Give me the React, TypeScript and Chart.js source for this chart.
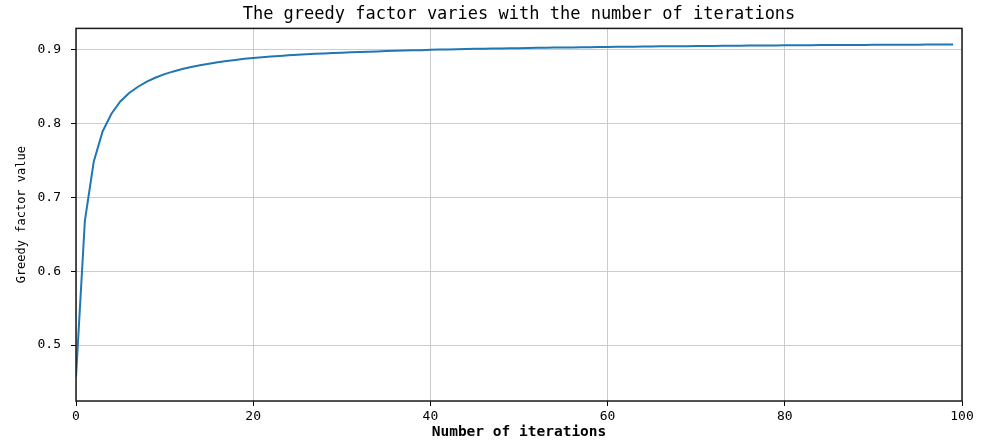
import React, { useEffect, useRef } from "react";
import { Chart, registerables } from "chart.js";

Chart.register(...registerables);

const TITLE = "The greedy factor varies with the number of iterations";
const X_TITLE = "Number of iterations";
const Y_TITLE = "Greedy factor value";

// greedy factor value at iteration 0..99
const GREEDY: number[] = [
  0.4570, 0.6680, 0.7480, 0.7890, 0.8130, 0.8295, 0.8410, 0.8495, 0.8565, 0.8620,
  0.8665, 0.8702, 0.8734, 0.8762, 0.8786, 0.8807, 0.8826, 0.8843, 0.8858, 0.8872,
  0.8885, 0.8895, 0.8904, 0.8912, 0.8920, 0.8927, 0.8934, 0.8940, 0.8946, 0.8951,
  0.8956, 0.8961, 0.8965, 0.8969, 0.8973, 0.8977, 0.8980, 0.8984, 0.8987, 0.8990,
  0.8995, 0.8998, 0.9000, 0.9003, 0.9005, 0.9007, 0.9009, 0.9011, 0.9013, 0.9015,
  0.9017, 0.9019, 0.9021, 0.9022, 0.9024, 0.9026, 0.9027, 0.9029, 0.9030, 0.9032,
  0.9033, 0.9035, 0.9036, 0.9037, 0.9038, 0.9040, 0.9041, 0.9042, 0.9043, 0.9044,
  0.9045, 0.9046, 0.9047, 0.9048, 0.9049, 0.9050, 0.9051, 0.9052, 0.9053, 0.9054,
  0.9055, 0.9055, 0.9056, 0.9057, 0.9058, 0.9058, 0.9059, 0.9060, 0.9060, 0.9061,
  0.9062, 0.9062, 0.9063, 0.9063, 0.9064, 0.9064, 0.9065, 0.9065, 0.9066, 0.9066,
];

const Y_TICKS = [0.5, 0.6, 0.7, 0.8, 0.9];
const X_TICKS = [0, 20, 40, 60, 80, 100];

const FONT = "'DejaVu Sans Mono', 'Liberation Mono', monospace";

const framePlugin = {
  id: "frame",
  afterDraw(chart: any) {
    const { ctx, chartArea } = chart;
    ctx.save();
    ctx.strokeStyle = "#1a1a1a";
    ctx.lineWidth = 1.5;
    ctx.strokeRect(
      chartArea.left,
      chartArea.top,
      chartArea.right - chartArea.left,
      chartArea.bottom - chartArea.top
    );
    ctx.restore();
  },
};

export default function App() {
  const ref = useRef<HTMLCanvasElement | null>(null);

  useEffect(() => {
    document.body.style.margin = "0";
    const canvas = ref.current;
    if (!canvas) return;
    const points = GREEDY.map((v, i) => ({ x: i, y: v }));
    const chart = new Chart(canvas, {
      type: "line",
      data: {
        datasets: [
          {
            data: points,
            borderColor: "#1f77b4",
            borderWidth: 2,
            pointRadius: 0,
            tension: 0,
            fill: false,
          },
        ],
      },
      options: {
        animation: false,
        responsive: false,
        maintainAspectRatio: false,
        layout: { padding: { left: 0, right: 23, top: 0, bottom: 0 } },
        plugins: {
          legend: { display: false },
          tooltip: { enabled: false },
          title: {
            display: true,
            fullSize: false,
            text: TITLE,
            color: "#000",
            font: { family: FONT, size: 17, weight: "normal" },
            padding: { top: 4, bottom: 4 },
          },
        },
        scales: {
          x: {
            type: "linear",
            min: 0,
            max: 100,
            afterFit(scale: any) {
              scale.height = 41;
            },
            afterBuildTicks(scale: any) {
              scale.ticks = X_TICKS.map((v) => ({ value: v }));
            },
            ticks: {
              color: "#000",
              font: { family: FONT, size: 13 },
              padding: 3,
              maxRotation: 0,
              callback: (v: any) => String(v),
            },
            grid: {
              color: "#cccccc",
              lineWidth: 1,
              drawTicks: true,
              tickLength: 5,
              tickColor: "#000",
            },
            border: { display: false },
            title: {
              display: true,
              text: X_TITLE,
              color: "#000",
              font: { family: FONT, size: 14.5, weight: "bold" },
              padding: { top: 0, bottom: 1 },
            },
          },
          y: {
            type: "linear",
            min: 0.4243,
            max: 0.9284,
            afterFit(scale: any) {
              scale.width = 76;
            },
            afterBuildTicks(scale: any) {
              scale.ticks = Y_TICKS.map((v) => ({ value: v }));
            },
            ticks: {
              color: "#000",
              font: { family: FONT, size: 13 },
              padding: 10,
              callback: (v: any) => Number(v).toFixed(1),
            },
            grid: {
              color: "#cccccc",
              lineWidth: 1,
              drawTicks: true,
              tickLength: 5,
              tickColor: "#000",
            },
            border: { display: false },
            title: {
              display: true,
              text: Y_TITLE,
              color: "#000",
              font: { family: FONT, size: 12 },
              padding: { top: 15, bottom: 0 },
            },
          },
        },
      },
      plugins: [framePlugin],
    });
    return () => chart.destroy();
  }, []);

  return (
    <div style={{ position: "absolute", left: 0, top: 0, width: 985, height: 442, background: "#fff" }}>
      <canvas ref={ref} width={985} height={442} style={{ width: 985, height: 442, display: "block" }} />
    </div>
  );
}
